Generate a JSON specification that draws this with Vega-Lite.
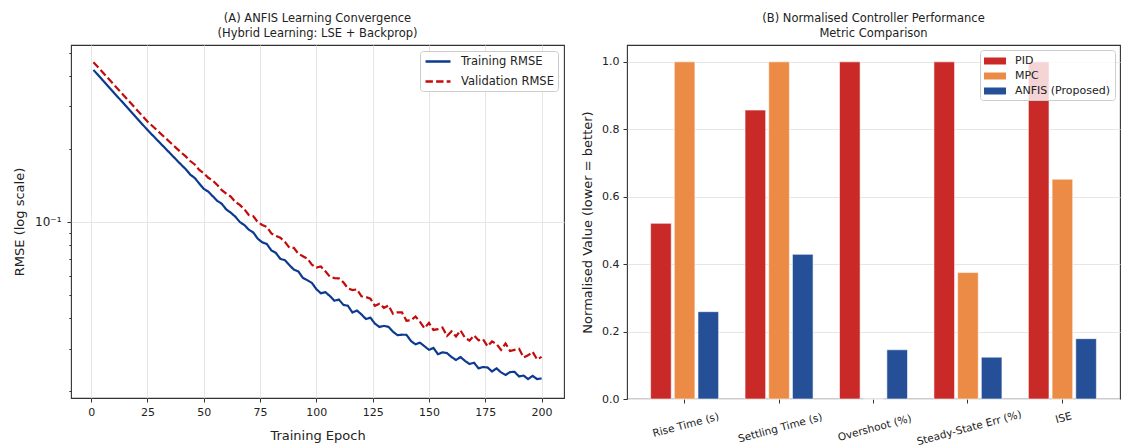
{
  "$schema": "https://vega.github.io/schema/vega-lite/v6.json",
  "padding": {"left": 13, "top": 11, "right": 0, "bottom": 0},
  "spacing": 15,
  "resolve": {"scale": {"color": "independent", "strokeDash": "independent", "x": "independent", "y": "independent"}, "legend": {"color": "independent", "strokeDash": "independent"}},
  "config": {
    "font": "DejaVu Sans",
    "view": {"stroke": "#333333", "strokeWidth": 1.1},
    "axis": {"labelFont": "DejaVu Sans", "labelFontSize": 11, "labelColor": "#222222", "titleFont": "DejaVu Sans", "titleFontSize": 13, "titleFontWeight": "normal", "titleColor": "#222222", "tickColor": "#333333", "domain": false, "gridColor": "#e6e6e6", "tickSize": 4, "labelPadding": 4},
    "title": {"font": "DejaVu Sans", "fontSize": 11.5, "fontWeight": "normal", "color": "#222222", "frame": "group", "anchor": "middle", "offset": 6, "lineHeight": 15},
    "legend": {"labelFont": "DejaVu Sans", "labelColor": "#222222"}
  },
  "hconcat": [
    {
      "width": 493,
      "height": 353,
      "title": {"text": ["(A) ANFIS Learning Convergence", "(Hybrid Learning: LSE + Backprop)"]},
      "data": {"values": [
        {"epoch": 1, "Training RMSE": 0.4246, "Validation RMSE": 0.4571},
        {"epoch": 5, "Training RMSE": 0.3861, "Validation RMSE": 0.4161},
        {"epoch": 10, "Training RMSE": 0.3428, "Validation RMSE": 0.3699},
        {"epoch": 15, "Training RMSE": 0.3043, "Validation RMSE": 0.3289},
        {"epoch": 20, "Training RMSE": 0.2702, "Validation RMSE": 0.2924},
        {"epoch": 25, "Training RMSE": 0.2399, "Validation RMSE": 0.2600},
        {"epoch": 30, "Training RMSE": 0.2148, "Validation RMSE": 0.2356},
        {"epoch": 35, "Training RMSE": 0.1923, "Validation RMSE": 0.2135},
        {"epoch": 40, "Training RMSE": 0.1722, "Validation RMSE": 0.1934},
        {"epoch": 42, "Training RMSE": 0.1652, "Validation RMSE": 0.1865},
        {"epoch": 44, "Training RMSE": 0.1569, "Validation RMSE": 0.1785},
        {"epoch": 46, "Training RMSE": 0.1519, "Validation RMSE": 0.1728},
        {"epoch": 48, "Training RMSE": 0.1441, "Validation RMSE": 0.1640},
        {"epoch": 50, "Training RMSE": 0.1370, "Validation RMSE": 0.1590},
        {"epoch": 52, "Training RMSE": 0.1335, "Validation RMSE": 0.1522},
        {"epoch": 54, "Training RMSE": 0.1277, "Validation RMSE": 0.1482},
        {"epoch": 56, "Training RMSE": 0.1222, "Validation RMSE": 0.1422},
        {"epoch": 58, "Training RMSE": 0.1189, "Validation RMSE": 0.1353},
        {"epoch": 60, "Training RMSE": 0.1126, "Validation RMSE": 0.1309},
        {"epoch": 62, "Training RMSE": 0.1092, "Validation RMSE": 0.1273},
        {"epoch": 64, "Training RMSE": 0.1052, "Validation RMSE": 0.1210},
        {"epoch": 66, "Training RMSE": 0.09995, "Validation RMSE": 0.1176},
        {"epoch": 68, "Training RMSE": 0.09716, "Validation RMSE": 0.1129},
        {"epoch": 70, "Training RMSE": 0.09292, "Validation RMSE": 0.1069},
        {"epoch": 72, "Training RMSE": 0.09049, "Validation RMSE": 0.1056},
        {"epoch": 74, "Training RMSE": 0.08519, "Validation RMSE": 0.09979},
        {"epoch": 76, "Training RMSE": 0.08240, "Validation RMSE": 0.09721},
        {"epoch": 78, "Training RMSE": 0.08110, "Validation RMSE": 0.09546},
        {"epoch": 80, "Training RMSE": 0.07629, "Validation RMSE": 0.08970},
        {"epoch": 82, "Training RMSE": 0.07449, "Validation RMSE": 0.08762},
        {"epoch": 84, "Training RMSE": 0.07042, "Validation RMSE": 0.08603},
        {"epoch": 86, "Training RMSE": 0.06953, "Validation RMSE": 0.08282},
        {"epoch": 88, "Training RMSE": 0.06637, "Validation RMSE": 0.07838},
        {"epoch": 90, "Training RMSE": 0.06357, "Validation RMSE": 0.07813},
        {"epoch": 92, "Training RMSE": 0.06246, "Validation RMSE": 0.07396},
        {"epoch": 94, "Training RMSE": 0.05877, "Validation RMSE": 0.07222},
        {"epoch": 96, "Training RMSE": 0.05746, "Validation RMSE": 0.07055},
        {"epoch": 98, "Training RMSE": 0.05601, "Validation RMSE": 0.06665},
        {"epoch": 100, "Training RMSE": 0.05277, "Validation RMSE": 0.06475},
        {"epoch": 102, "Training RMSE": 0.05075, "Validation RMSE": 0.06552},
        {"epoch": 104, "Training RMSE": 0.05129, "Validation RMSE": 0.06255},
        {"epoch": 106, "Training RMSE": 0.04945, "Validation RMSE": 0.05941},
        {"epoch": 108, "Training RMSE": 0.04730, "Validation RMSE": 0.05863},
        {"epoch": 110, "Training RMSE": 0.04780, "Validation RMSE": 0.05851},
        {"epoch": 112, "Training RMSE": 0.04546, "Validation RMSE": 0.05632},
        {"epoch": 114, "Training RMSE": 0.04506, "Validation RMSE": 0.05318},
        {"epoch": 116, "Training RMSE": 0.04227, "Validation RMSE": 0.05236},
        {"epoch": 118, "Training RMSE": 0.04308, "Validation RMSE": 0.05268},
        {"epoch": 120, "Training RMSE": 0.04154, "Validation RMSE": 0.04934},
        {"epoch": 122, "Training RMSE": 0.03972, "Validation RMSE": 0.04897},
        {"epoch": 124, "Training RMSE": 0.04025, "Validation RMSE": 0.04820},
        {"epoch": 126, "Training RMSE": 0.03802, "Validation RMSE": 0.04507},
        {"epoch": 128, "Training RMSE": 0.03685, "Validation RMSE": 0.04597},
        {"epoch": 130, "Training RMSE": 0.03722, "Validation RMSE": 0.04420},
        {"epoch": 132, "Training RMSE": 0.03688, "Validation RMSE": 0.04521},
        {"epoch": 134, "Training RMSE": 0.03525, "Validation RMSE": 0.04178},
        {"epoch": 136, "Training RMSE": 0.03407, "Validation RMSE": 0.04234},
        {"epoch": 138, "Training RMSE": 0.03423, "Validation RMSE": 0.04231},
        {"epoch": 140, "Training RMSE": 0.03420, "Validation RMSE": 0.03910},
        {"epoch": 142, "Training RMSE": 0.03224, "Validation RMSE": 0.03926},
        {"epoch": 144, "Training RMSE": 0.03124, "Validation RMSE": 0.04071},
        {"epoch": 146, "Training RMSE": 0.03174, "Validation RMSE": 0.03868},
        {"epoch": 148, "Training RMSE": 0.03067, "Validation RMSE": 0.03641},
        {"epoch": 150, "Training RMSE": 0.02965, "Validation RMSE": 0.03828},
        {"epoch": 152, "Training RMSE": 0.03018, "Validation RMSE": 0.03581},
        {"epoch": 154, "Training RMSE": 0.02843, "Validation RMSE": 0.03607},
        {"epoch": 156, "Training RMSE": 0.02895, "Validation RMSE": 0.03665},
        {"epoch": 158, "Training RMSE": 0.02874, "Validation RMSE": 0.03382},
        {"epoch": 160, "Training RMSE": 0.02769, "Validation RMSE": 0.03533},
        {"epoch": 162, "Training RMSE": 0.02690, "Validation RMSE": 0.03367},
        {"epoch": 164, "Training RMSE": 0.02768, "Validation RMSE": 0.03567},
        {"epoch": 166, "Training RMSE": 0.02667, "Validation RMSE": 0.03321},
        {"epoch": 168, "Training RMSE": 0.02590, "Validation RMSE": 0.03239},
        {"epoch": 170, "Training RMSE": 0.02623, "Validation RMSE": 0.03399},
        {"epoch": 172, "Training RMSE": 0.02486, "Validation RMSE": 0.03245},
        {"epoch": 174, "Training RMSE": 0.02516, "Validation RMSE": 0.03277},
        {"epoch": 176, "Training RMSE": 0.02507, "Validation RMSE": 0.03064},
        {"epoch": 178, "Training RMSE": 0.02412, "Validation RMSE": 0.03212},
        {"epoch": 180, "Training RMSE": 0.02486, "Validation RMSE": 0.03129},
        {"epoch": 182, "Training RMSE": 0.02392, "Validation RMSE": 0.02964},
        {"epoch": 184, "Training RMSE": 0.02334, "Validation RMSE": 0.03151},
        {"epoch": 186, "Training RMSE": 0.02399, "Validation RMSE": 0.02931},
        {"epoch": 188, "Training RMSE": 0.02405, "Validation RMSE": 0.02963},
        {"epoch": 190, "Training RMSE": 0.02301, "Validation RMSE": 0.02993},
        {"epoch": 192, "Training RMSE": 0.02321, "Validation RMSE": 0.02758},
        {"epoch": 194, "Training RMSE": 0.02245, "Validation RMSE": 0.02813},
        {"epoch": 196, "Training RMSE": 0.02314, "Validation RMSE": 0.02909},
        {"epoch": 198, "Training RMSE": 0.02245, "Validation RMSE": 0.02706},
        {"epoch": 200, "Training RMSE": 0.02258, "Validation RMSE": 0.02773}
      ]},
      "transform": [{"fold": ["Training RMSE", "Validation RMSE"], "as": ["series", "rmse"]}],
      "mark": {"type": "line", "strokeWidth": 2.2, "clip": true},
      "encoding": {
        "x": {"field": "epoch", "type": "quantitative",
          "scale": {"domain": [-8.95, 209.95], "nice": false, "zero": false},
          "axis": {"values": [0, 25, 50, 75, 100, 125, 150, 175, 200], "title": "Training Epoch", "grid": true, "labelFlush": false, "titlePadding": 12}},
        "y": {"field": "rmse", "type": "quantitative",
          "scale": {"type": "log", "domain": [0.01875, 0.538], "nice": false},
          "axis": {"values": [0.02, 0.03, 0.04, 0.05, 0.06, 0.07, 0.08, 0.09, 0.1, 0.2, 0.3, 0.4, 0.5],
            "labelExpr": "datum.value == 0.1 ? '10⁻¹' : ''",
            "tickSize": {"condition": {"test": "datum.value == 0.1", "value": 4}, "value": 2.2},
            "gridOpacity": {"condition": {"test": "datum.value == 0.1", "value": 1}, "value": 0},
            "labelPadding": 6,
            "labelFontSize": 12,
            "title": "RMSE (log scale)", "titlePadding": 8}},
        "color": {"field": "series", "type": "nominal",
          "scale": {"domain": ["Training RMSE", "Validation RMSE"], "range": ["#0b3a8f", "#c40a0a"]},
          "legend": {"title": null, "orient": "top-right", "offset": 6, "padding": 4, "strokeColor": "#cccccc", "fillColor": "rgba(255,255,255,0.85)", "cornerRadius": 3, "symbolType": "M-1,0H4", "symbolSize": 100, "symbolStrokeWidth": 2.5, "labelFontSize": 11.5, "rowPadding": 8, "labelOffset": 24, "zindex": 1}},
        "strokeDash": {"field": "series", "type": "nominal",
          "scale": {"domain": ["Training RMSE", "Validation RMSE"], "range": [[1, 0], [7.4, 3.2]]},
          "legend": {"title": null, "orient": "top-right", "offset": 6, "padding": 4, "strokeColor": "#cccccc", "fillColor": "rgba(255,255,255,0.85)", "cornerRadius": 3, "symbolType": "M-1,0H4", "symbolSize": 100, "symbolStrokeWidth": 2.5, "labelFontSize": 11.5, "rowPadding": 8, "labelOffset": 24, "zindex": 1}}
      }
    },
    {
      "width": 493,
      "height": 354,
      "title": {"text": ["(B) Normalised Controller Performance", "Metric Comparison"]},
      "data": {"values": [
        {"metric": "Rise Time (s)", "controller": "PID", "value": 0.521},
        {"metric": "Rise Time (s)", "controller": "MPC", "value": 1.0},
        {"metric": "Rise Time (s)", "controller": "ANFIS (Proposed)", "value": 0.259},
        {"metric": "Settling Time (s)", "controller": "PID", "value": 0.857},
        {"metric": "Settling Time (s)", "controller": "MPC", "value": 1.0},
        {"metric": "Settling Time (s)", "controller": "ANFIS (Proposed)", "value": 0.429},
        {"metric": "Overshoot (%)", "controller": "PID", "value": 1.0},
        {"metric": "Overshoot (%)", "controller": "MPC", "value": 0.0},
        {"metric": "Overshoot (%)", "controller": "ANFIS (Proposed)", "value": 0.146},
        {"metric": "Steady-State Err (%)", "controller": "PID", "value": 1.0},
        {"metric": "Steady-State Err (%)", "controller": "MPC", "value": 0.375},
        {"metric": "Steady-State Err (%)", "controller": "ANFIS (Proposed)", "value": 0.124},
        {"metric": "ISE", "controller": "PID", "value": 1.0},
        {"metric": "ISE", "controller": "MPC", "value": 0.652},
        {"metric": "ISE", "controller": "ANFIS (Proposed)", "value": 0.179}
      ]},
      "mark": {"type": "bar", "stroke": "#ffffff", "strokeWidth": 0.8, "strokeOpacity": 0.7},
      "encoding": {
        "x": {"field": "metric", "type": "nominal", "sort": null,
          "scale": {"paddingInner": 0.28, "paddingOuter": 0.25},
          "axis": {"title": null, "labelAngle": -15, "labelAlign": "center", "labelBaseline": "top", "labelFontSize": 10.5, "labelOverlap": false, "grid": false,
            "labelPadding": {"condition": [{"test": "datum.value == 'ISE'", "value": 10}, {"test": "datum.value == 'Rise Time (s)'", "value": 17}], "value": 20}}},
        "xOffset": {"field": "controller", "type": "nominal",
          "scale": {"domain": ["PID", "MPC", "ANFIS (Proposed)"], "paddingInner": 0.13}},
        "y": {"field": "value", "type": "quantitative",
          "scale": {"domain": [0, 1.05], "nice": false},
          "axis": {"values": [0, 0.2, 0.4, 0.6, 0.8, 1.0], "format": ".1f", "title": "Normalised Value (lower = better)", "grid": true, "titlePadding": 7}},
        "color": {"field": "controller", "type": "nominal",
          "scale": {"domain": ["PID", "MPC", "ANFIS (Proposed)"], "range": ["#c92a28", "#ec8b45", "#255098"]},
          "legend": {"title": null, "orient": "top-right", "offset": 5, "padding": 4, "strokeColor": "#cccccc", "fillColor": "rgba(255,255,255,0.8)", "cornerRadius": 3, "symbolType": "M-1,-0.5H2.14V0.5H-1Z", "symbolSize": 196, "symbolStrokeWidth": 0, "labelFontSize": 11, "rowPadding": 3, "labelOffset": 17, "zindex": 1}}
      }
    }
  ]
}
